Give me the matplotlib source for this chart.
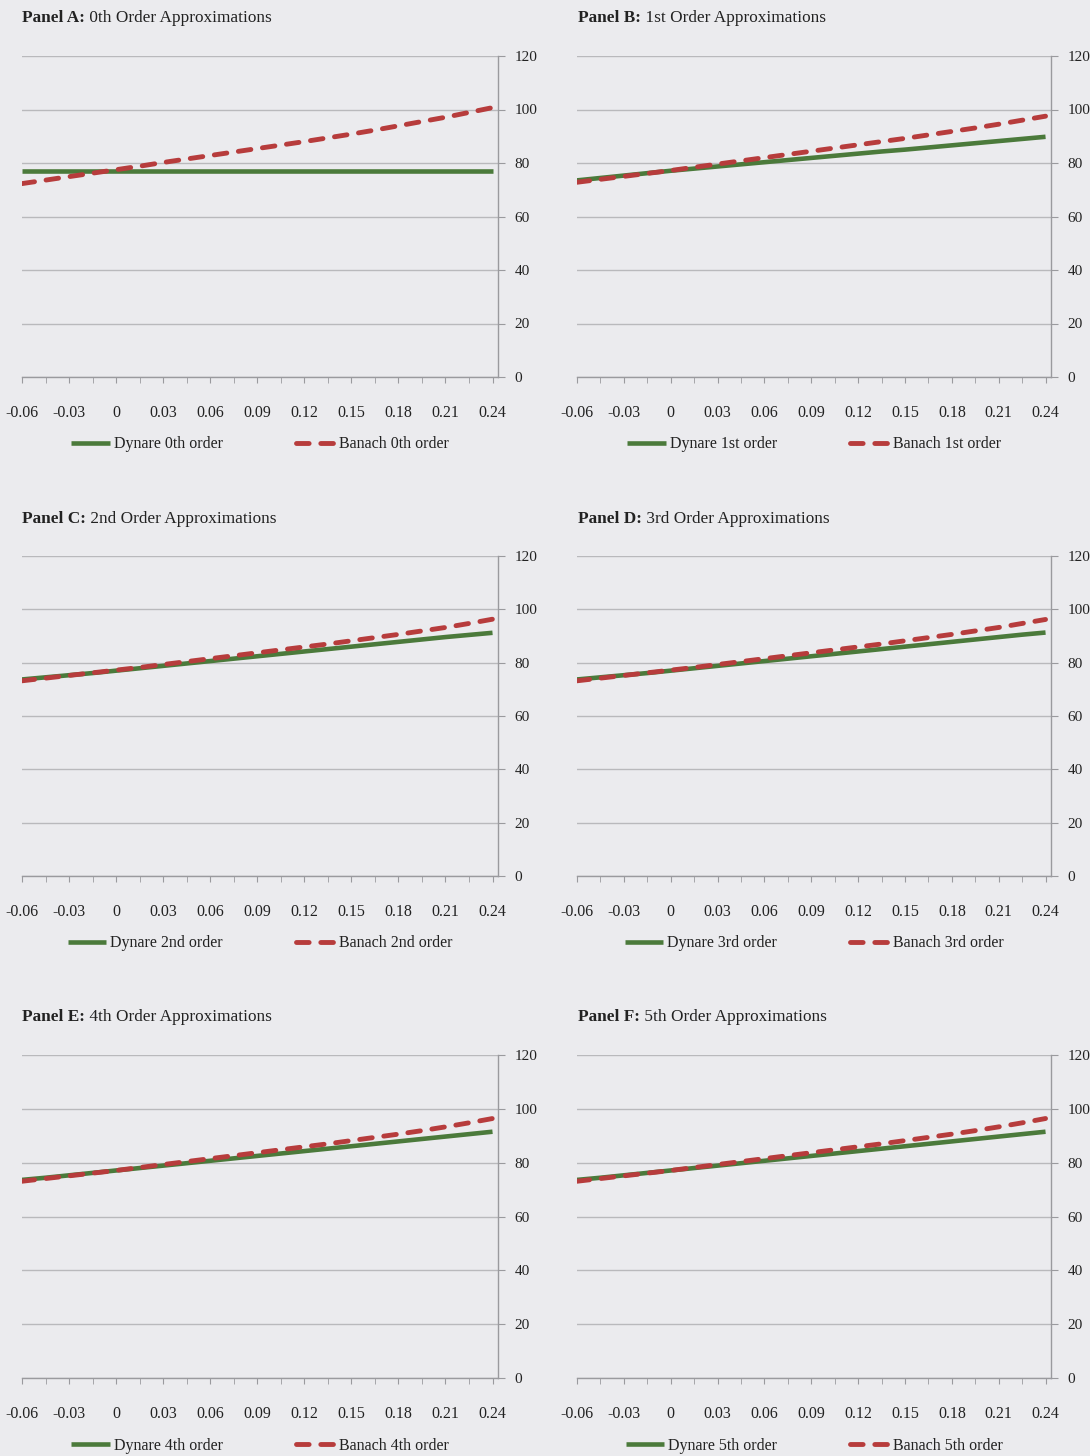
import matplotlib
matplotlib.use("Agg")
import matplotlib.pyplot as plt
from matplotlib.lines import Line2D

plt.rcParams['font.family'] = ['Liberation Serif', 'DejaVu Serif']

# Shock size grid (category axis)
shock = [-0.06, -0.045, -0.03, -0.015, 0.0, 0.015, 0.03, 0.045, 0.06, 0.075,
         0.09, 0.105, 0.12, 0.135, 0.15, 0.165, 0.18, 0.195, 0.21, 0.225, 0.24]
tick_labels = ['-0.06', '-0.03', '0', '0.03', '0.06', '0.09', '0.12',
               '0.15', '0.18', '0.21', '0.24']
label_positions = [-0.06, -0.03, 0.0, 0.03, 0.06, 0.09, 0.12, 0.15, 0.18, 0.21, 0.24]

panel_letters = ['A', 'B', 'C', 'D', 'E', 'F']
orders = ['0th', '1st', '2nd', '3rd', '4th', '5th']

dynare_0 = [77.1] * 21
banach_0 = [72.3, 73.6, 74.9, 76.2, 77.5, 78.8, 80.2, 81.5, 82.8, 84.1, 85.4,
            86.7, 88.0, 89.4, 90.8, 92.3, 93.9, 95.5, 97.1, 98.9, 100.7]
dynare_1 = [73.5, 74.4, 75.3, 76.2, 77.1, 77.9, 78.7, 79.5, 80.3, 81.1, 81.9,
            82.7, 83.5, 84.3, 85.0, 85.8, 86.6, 87.4, 88.2, 89.0, 89.8]
banach_1 = [72.8, 73.9, 75.0, 76.1, 77.2, 78.4, 79.6, 80.8, 82.0, 83.2, 84.4,
            85.6, 86.8, 88.0, 89.2, 90.5, 91.8, 93.1, 94.5, 96.0, 97.5]
dynare_2 = [73.7, 74.5, 75.3, 76.1, 77.0, 77.9, 78.8, 79.7, 80.6, 81.5, 82.4,
            83.3, 84.2, 85.1, 86.0, 86.9, 87.8, 88.7, 89.6, 90.4, 91.2]
banach_2 = [73.2, 74.2, 75.2, 76.2, 77.2, 78.2, 79.3, 80.4, 81.5, 82.6, 83.7,
            84.8, 85.9, 87.0, 88.2, 89.4, 90.6, 91.9, 93.2, 94.7, 96.3]
dynare_3 = [73.7, 74.5, 75.3, 76.1, 77.0, 77.9, 78.8, 79.7, 80.6, 81.5, 82.4,
            83.3, 84.2, 85.1, 86.0, 86.9, 87.8, 88.7, 89.6, 90.5, 91.3]
banach_3 = [73.2, 74.2, 75.2, 76.2, 77.2, 78.2, 79.3, 80.4, 81.5, 82.6, 83.7,
            84.8, 85.9, 87.0, 88.2, 89.4, 90.6, 91.9, 93.2, 94.7, 96.2]
dynare_4 = [73.6, 74.4, 75.3, 76.2, 77.1, 78.0, 78.9, 79.8, 80.7, 81.6, 82.5,
            83.4, 84.3, 85.2, 86.1, 87.0, 87.9, 88.8, 89.7, 90.6, 91.5]
banach_4 = [73.1, 74.1, 75.1, 76.1, 77.1, 78.2, 79.3, 80.4, 81.5, 82.6, 83.7,
            84.8, 85.9, 87.0, 88.2, 89.4, 90.6, 91.9, 93.3, 94.8, 96.4]
dynare_5 = [73.6, 74.4, 75.3, 76.2, 77.1, 78.0, 78.9, 79.8, 80.7, 81.6, 82.5,
            83.4, 84.3, 85.2, 86.1, 87.0, 87.9, 88.8, 89.7, 90.6, 91.5]
banach_5 = [73.1, 74.1, 75.1, 76.1, 77.1, 78.2, 79.3, 80.4, 81.5, 82.6, 83.7,
            84.8, 85.9, 87.0, 88.2, 89.4, 90.6, 91.9, 93.3, 94.8, 96.4]

dynare_series = [dynare_0, dynare_1, dynare_2, dynare_3, dynare_4, dynare_5]
banach_series = [banach_0, banach_1, banach_2, banach_3, banach_4, banach_5]

W, H = 1090, 1456
BG = '#ebebee'
GREEN = '#4b7a3b'
RED = '#b73c3c'
GRID = '#b9b9bc'
TXT = '#222222'
DASH = (2.6, 2.4)

fig = plt.figure(figsize=(W / 100, H / 100), dpi=100, facecolor=BG)

# pixel boxes: (left, right, top, bottom)
boxes = [(22, 498, 56, 377), (577, 1051, 56, 377),
         (22, 498, 556, 876), (577, 1051, 556, 876),
         (22, 498, 1055, 1378), (577, 1051, 1055, 1378)]
title_pos = [(22, 18), (578, 18), (22, 519), (578, 519), (22, 1017), (578, 1017)]

for i in range(6):
    x0, x1, y0, y1 = boxes[i]
    ax = fig.add_axes([x0 / W, 1 - y1 / H, (x1 - x0) / W, (y1 - y0) / H])
    ax.set_facecolor('none')
    ax.set_xlim(-0.06, 0.2435)
    ax.set_ylim(0, 120)

    ax.plot(shock, dynare_series[i], color=GREEN, lw=3.3, solid_capstyle='butt',
            zorder=3)
    ax.plot(shock, banach_series[i], color=RED, lw=3.5, dashes=DASH,
            dash_capstyle='round', zorder=4)

    # axes styling
    for s in ('left', 'top'):
        ax.spines[s].set_visible(False)
    for s in ('right', 'bottom'):
        ax.spines[s].set_color('#9a9a9e')
        ax.spines[s].set_linewidth(1.0)
    ax.yaxis.tick_right()
    ax.set_yticks(range(0, 121, 20))
    ax.grid(axis='y', color=GRID, lw=1.0, zorder=0)
    ax.set_axisbelow(True)

    ax.set_xticks(label_positions)
    ax.set_xticklabels(tick_labels)
    ax.set_xticks([v for v in shock if v not in label_positions], minor=True)
    ax.tick_params(axis='x', which='both', direction='out', length=4,
                   color='#9a9a9e', pad=16, labelsize=11.5, labelcolor=TXT)
    ax.tick_params(axis='y', which='both', direction='out', length=5,
                   color='#9a9a9e', pad=7, labelsize=11, labelcolor=TXT)

    # legend under each panel
    handles = [Line2D([], [], color=GREEN, lw=3.3, solid_capstyle='butt'),
               Line2D([], [], color=RED, lw=3.5, dashes=DASH,
                      dash_capstyle='round')]
    labels = ['Dynare %s order' % orders[i], 'Banach %s order' % orders[i]]
    leg = ax.legend(handles, labels, loc='center', bbox_to_anchor=(0.5, -0.21),
                    ncol=2, frameon=False, handlelength=2.4, columnspacing=4.6,
                    handletextpad=0.25, fontsize=11.5)
    for t in leg.get_texts():
        t.set_color(TXT)

    # panel title: bold prefix followed by regular text
    tx, ty = title_pos[i]
    t1 = fig.text(tx / W, 1 - ty / H, 'Panel %s:' % panel_letters[i],
                  fontsize=12.4, fontweight='bold', color=TXT, va='center', ha='left')
    ax.annotate(' %s Order Approximations' % orders[i], xy=(1, 0.5),
                xycoords=t1, va='center', ha='left', fontsize=12.4, color=TXT,
                annotation_clip=False)

fig.savefig('out.png', dpi=100, facecolor=BG)
